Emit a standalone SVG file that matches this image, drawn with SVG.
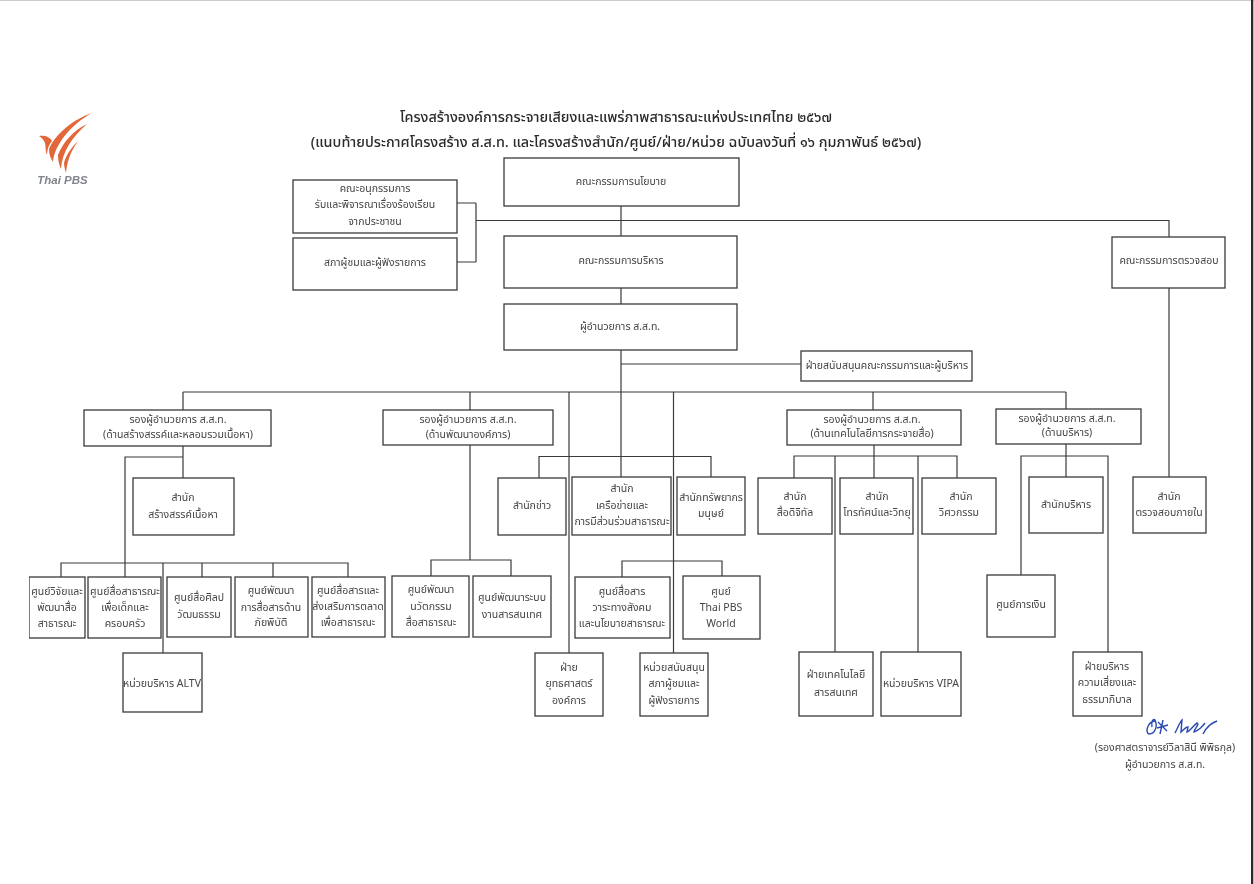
<svg xmlns="http://www.w3.org/2000/svg" width="1254" height="884" viewBox="0 0 1254 884">
<defs><filter id="soft" x="0" y="0" width="100%" height="100%"><feGaussianBlur stdDeviation="0.35"/></filter></defs>
<style>
text{font-family:"Noto Sans Thai","Noto Sans","Liberation Sans","DejaVu Sans",sans-serif;font-size:10.5px;fill:#444;text-anchor:middle}
.t{font-size:14.400px;fill:#2b2b2b;font-weight:500}
.n rect{fill:#fff;stroke:#3a3a3a;stroke-width:1.300}
#connectors path{fill:none;stroke:#3a3a3a;stroke-width:1.200}
</style>
<rect width="1254" height="884" fill="#fff"/>
<rect x="0" y="0" width="1254" height="1" fill="#ccc"/>
<rect x="1251" y="0" width="2.300" height="884" fill="#2c2c2c"/>
<g filter="url(#soft)">
<g id="logo">
<path d="M92 113C74 119 56 133 49 149C49 155 51 159 53 162C54 146 70 125 92 113Z" fill="#e2683a"/>
<path d="M87 124C74 130 63 142 58 155C58 160 59 165 61 169C62 152 72 137 87 124Z" fill="#e2683a"/>
<path d="M78 141C72 147 66 155 64 163C64 166 65 170 66 173C67 161 71 151 78 141Z" fill="#e2683a"/>
<path d="M39 136C45 135 50 137 52 141C49 145 47 149 47 155C45 151 46 147 45 143C44 140 42 138 39 136Z" fill="#e2683a"/>
<text x="62.500" y="184" style="font-family:'Liberation Sans',sans-serif;font-size:11.500px;font-weight:700;font-style:italic;fill:#80848c">Thai PBS</text>
</g>
<g id="title">
<text class="t" x="616" y="122">โครงสร้างองค์การกระจายเสียงและแพร่ภาพสาธารณะแห่งประเทศไทย ๒๕๖๗</text>
<text class="t" x="616" y="147">(แนบท้ายประกาศโครงสร้าง ส.ส.ท. และโครงสร้างสำนัก/ศูนย์/ฝ่าย/หน่วย ฉบับลงวันที่ ๑๖ กุมภาพันธ์ ๒๕๖๗)</text>
</g>
<g id="connectors">
<path d="M621 206V236M621 288V304M621 350V477"/>
<path d="M457 203H476M457 262H476M476 203V262M476 220.500H1169V237M1169 288V477"/>
<path d="M621 364H801"/>
<path d="M183 392H1066M183 392V410M470 392V410M569 392V653M673.500 392V653M873 392V410M1066 392V409"/>
<path d="M539 478V456.500H711V477"/>
<path d="M470 445V560M431 576V560H511V576"/>
<path d="M622 577V561H722V576"/>
<path d="M183 446V478M125 577V457H183M61 577V563H348V577M202 563V577M273 563V577M163 563V653"/>
<path d="M874 445V478M794 478V456H957V478M835 456V652M918 456V652"/>
<path d="M1066 444V477M1021 575V456H1108V652"/>
</g>
<g id="n1" class="n"><rect x="504" y="158" width="235" height="48"/><text x="621" y="185">คณะกรรมการนโยบาย</text></g>
<g id="n2" class="n"><rect x="293" y="180" width="164" height="53"/><text x="375" y="192">คณะอนุกรรมการ</text><text x="375" y="208">รับและพิจารณาเรื่องร้องเรียน</text><text x="375" y="225">จากประชาชน</text></g>
<g id="n3" class="n"><rect x="293" y="238" width="164" height="52"/><text x="375" y="266">สภาผู้ชมและผู้ฟังรายการ</text></g>
<g id="n4" class="n"><rect x="504" y="236" width="233" height="52"/><text x="621" y="264">คณะกรรมการบริหาร</text></g>
<g id="n5" class="n"><rect x="504" y="304" width="233" height="46"/><text x="620" y="330">ผู้อำนวยการ ส.ส.ท.</text></g>
<g id="n6" class="n"><rect x="1112" y="237" width="113" height="51"/><text x="1169" y="264">คณะกรรมการตรวจสอบ</text></g>
<g id="n7" class="n"><rect x="801" y="351" width="171" height="30"/><text x="887" y="369">ฝ่ายสนับสนุนคณะกรรมการและผู้บริหาร</text></g>
<g id="n8" class="n"><rect x="84" y="410" width="187" height="36"/><text x="178" y="423">รองผู้อำนวยการ ส.ส.ท.</text><text x="178" y="438">(ด้านสร้างสรรค์และหลอมรวมเนื้อหา)</text></g>
<g id="n9" class="n"><rect x="383" y="410" width="170" height="35"/><text x="468" y="423">รองผู้อำนวยการ ส.ส.ท.</text><text x="468" y="438">(ด้านพัฒนาองค์การ)</text></g>
<g id="n10" class="n"><rect x="787" y="410" width="174" height="35"/><text x="872" y="423">รองผู้อำนวยการ ส.ส.ท.</text><text x="872" y="437">(ด้านเทคโนโลยีการกระจายสื่อ)</text></g>
<g id="n11" class="n"><rect x="996" y="409" width="145" height="35"/><text x="1067" y="422">รองผู้อำนวยการ ส.ส.ท.</text><text x="1067" y="436">(ด้านบริหาร)</text></g>
<g id="n12" class="n"><rect x="133" y="478" width="101" height="57"/><text x="183" y="501">สำนัก</text><text x="183" y="518">สร้างสรรค์เนื้อหา</text></g>
<g id="n13" class="n"><rect x="29" y="577" width="56" height="61"/><text x="57" y="595">ศูนย์วิจัยและ</text><text x="57" y="611">พัฒนาสื่อ</text><text x="57" y="627">สาธารณะ</text></g>
<g id="n14" class="n"><rect x="88" y="577" width="73" height="61"/><text x="125" y="595">ศูนย์สื่อสาธารณะ</text><text x="125" y="611">เพื่อเด็กและ</text><text x="125" y="627">ครอบครัว</text></g>
<g id="n15" class="n"><rect x="167" y="577" width="64" height="60"/><text x="199" y="601">ศูนย์สื่อศิลป</text><text x="199" y="618">วัฒนธรรม</text></g>
<g id="n16" class="n"><rect x="235" y="577" width="73" height="60"/><text x="271" y="594">ศูนย์พัฒนา</text><text x="271" y="611">การสื่อสารด้าน</text><text x="271" y="626">ภัยพิบัติ</text></g>
<g id="n17" class="n"><rect x="312" y="577" width="73" height="60"/><text x="348" y="594">ศูนย์สื่อสารและ</text><text x="348" y="610">ส่งเสริมการตลาด</text><text x="348" y="626">เพื่อสาธารณะ</text></g>
<g id="n18" class="n"><rect x="123" y="653" width="79" height="59"/><text x="162" y="687">หน่วยบริหาร ALTV</text></g>
<g id="n19" class="n"><rect x="392" y="576" width="77" height="61"/><text x="431" y="593">ศูนย์พัฒนา</text><text x="431" y="610">นวัตกรรม</text><text x="431" y="626">สื่อสาธารณะ</text></g>
<g id="n20" class="n"><rect x="473" y="576" width="78" height="61"/><text x="512" y="601">ศูนย์พัฒนาระบบ</text><text x="512" y="618">งานสารสนเทศ</text></g>
<g id="n21" class="n"><rect x="498" y="478" width="68" height="57"/><text x="532" y="509">สำนักข่าว</text></g>
<g id="n22" class="n"><rect x="572" y="477" width="99" height="58"/><text x="622" y="492">สำนัก</text><text x="622" y="509">เครือข่ายและ</text><text x="622" y="525">การมีส่วนร่วมสาธารณะ</text></g>
<g id="n23" class="n"><rect x="677" y="477" width="68" height="58"/><text x="711" y="501">สำนักทรัพยากร</text><text x="711" y="517">มนุษย์</text></g>
<g id="n24" class="n"><rect x="575" y="577" width="95" height="61"/><text x="622" y="595">ศูนย์สื่อสาร</text><text x="622" y="611">วาระทางสังคม</text><text x="622" y="627">และนโยบายสาธารณะ</text></g>
<g id="n25" class="n"><rect x="683" y="576" width="77" height="63"/><text x="721" y="595">ศูนย์</text><text x="721" y="611">Thai PBS</text><text x="721" y="627">World</text></g>
<g id="n26" class="n"><rect x="535" y="653" width="68" height="63"/><text x="569" y="671">ฝ่าย</text><text x="569" y="687">ยุทธศาสตร์</text><text x="569" y="704">องค์การ</text></g>
<g id="n27" class="n"><rect x="640" y="653" width="68" height="63"/><text x="674" y="671">หน่วยสนับสนุน</text><text x="674" y="687">สภาผู้ชมและ</text><text x="674" y="704">ผู้ฟังรายการ</text></g>
<g id="n28" class="n"><rect x="758" y="478" width="74" height="56"/><text x="795" y="500">สำนัก</text><text x="795" y="516">สื่อดิจิทัล</text></g>
<g id="n29" class="n"><rect x="840" y="478" width="73" height="56"/><text x="877" y="500">สำนัก</text><text x="877" y="516">โทรทัศน์และวิทยุ</text></g>
<g id="n30" class="n"><rect x="922" y="478" width="74" height="56"/><text x="961" y="500">สำนัก</text><text x="959" y="516">วิศวกรรม</text></g>
<g id="n31" class="n"><rect x="1029" y="477" width="74" height="56"/><text x="1066" y="508">สำนักบริหาร</text></g>
<g id="n32" class="n"><rect x="1133" y="477" width="73" height="56"/><text x="1169" y="500">สำนัก</text><text x="1169" y="516">ตรวจสอบภายใน</text></g>
<g id="n33" class="n"><rect x="987" y="575" width="68" height="62"/><text x="1021" y="608">ศูนย์การเงิน</text></g>
<g id="n34" class="n"><rect x="799" y="652" width="74" height="64"/><text x="836" y="678">ฝ่ายเทคโนโลยี</text><text x="836" y="696">สารสนเทศ</text></g>
<g id="n35" class="n"><rect x="881" y="652" width="80" height="64"/><text x="921" y="687">หน่วยบริหาร VIPA</text></g>
<g id="n36" class="n"><rect x="1073" y="652" width="69" height="64"/><text x="1107" y="670">ฝ่ายบริหาร</text><text x="1107" y="686">ความเสี่ยงและ</text><text x="1107" y="703">ธรรมาภิบาล</text></g>
<g id="signature">
<path d="M1155 721C1147 722 1145 733 1149 734C1155 734 1158 726 1155 720C1153 718 1151 722 1152 727M1163 720L1160 734M1157 728L1168 725M1158 722L1167 731M1175 733C1178 727 1180 722 1182 720L1181 732C1183 730 1186 727 1188 727L1187 732C1190 731 1195 724 1197 723C1200 724 1194 729 1194 732C1198 731 1203 726 1205 723M1203 734C1205 730 1208 724 1217 721" fill="none" stroke="#2b49b0" stroke-width="1.400"/>
<text x="1165" y="751">(รองศาสตราจารย์วิลาสินี พิพิธกุล)</text>
<text x="1165" y="768">ผู้อำนวยการ ส.ส.ท.</text>
</g>
</g>
</svg>
